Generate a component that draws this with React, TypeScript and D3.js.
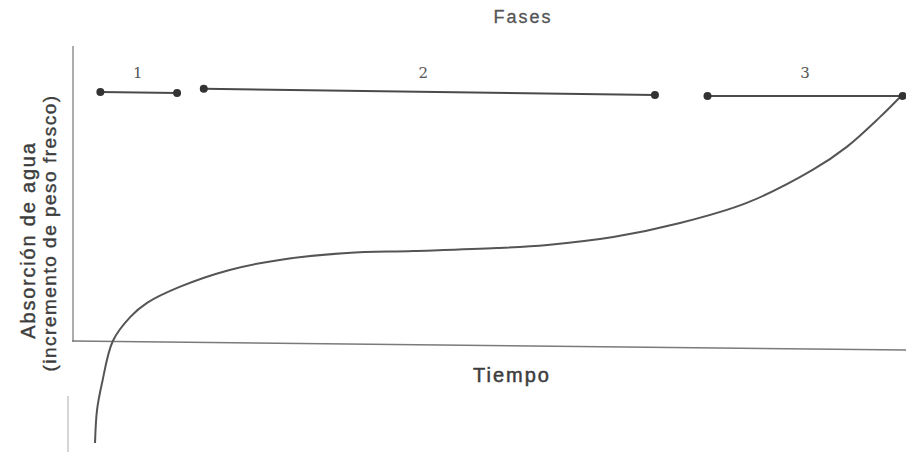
import React from "react";
import * as d3 from "d3";

// Curve: time (0-100) vs water absorption (relative units)
const curveTime = [2.76, 3.0, 3.6, 4.9, 7.0, 9.0, 12.9, 18.9, 24.9, 33.0, 40.9, 51.0, 57.0, 64.9, 72.9, 80.9, 88.8, 92.9, 96.9, 99.3];
const curveAbs = [-41.2, -27.8, -16.8, 0.3, 10.1, 15.8, 22.3, 29.2, 33.3, 36.1, 36.9, 38.1, 39.4, 42.6, 48.3, 56.5, 69.9, 79.3, 91.5, 99.6];

// Phases
const phaseLabels = ["1", "2", "3"];
const phaseStart = [3.4, 15.8, 76.2];
const phaseEnd = [12.6, 69.9, 99.6];
const phaseLevelStart = [101.6, 102.9, 100.0];
const phaseLevelEnd = [101.2, 100.4, 100.0];

const W = 906;
const H = 454;

export default function App() {
  const x = d3.scaleLinear().domain([0, 100]).range([72, 906]);
  const y = d3.scaleLinear().domain([-40, 100]).range([440, 96]);

  const pts: [number, number][] = curveTime.map((t, i) => [t, curveAbs[i]]);
  const line = d3
    .line<[number, number]>()
    .x((d) => x(d[0]))
    .y((d) => y(d[1]))
    .curve(d3.curveCatmullRom.alpha(0.5));

  const font = "'Liberation Sans', Arial, sans-serif";
  const ink = "#4a4a4a";
  const txt = "#3c3c3c";

  return (
    <svg width={W} height={H} style={{ position: "absolute", left: 0, top: 0, background: "#fff" }}>
      {/* axes */}
      <line x1={73} y1={46} x2={73} y2={342} stroke="#8a8a8a" strokeWidth={1.4} />
      <line x1={68} y1={396} x2={68} y2={452} stroke="#c4c4c4" strokeWidth={1.4} />
      <line x1={72} y1={341} x2={906} y2={350} stroke="#7a7a7a" strokeWidth={1.5} />

      {/* curve */}
      <path d={line(pts) || ""} fill="none" stroke="#555" strokeWidth={2} />

      {/* phases */}
      {phaseLabels.map((lab, i) => {
        const x1 = x(phaseStart[i]);
        const x2 = x(phaseEnd[i]);
        const y1 = y(phaseLevelStart[i]);
        const y2 = y(phaseLevelEnd[i]);
        return (
          <g key={lab}>
            <line x1={x1} y1={y1} x2={x2} y2={y2} stroke={ink} strokeWidth={2} />
            <circle cx={x1} cy={y1} r={4} fill="#333" />
            <circle cx={x2} cy={y2} r={4} fill="#333" />
            <text
              x={(x1 + x2) / 2 + (i === 0 ? -1 : i === 1 ? -6 : 0)}
              y={78}
              textAnchor="middle"
              fontFamily="'DejaVu Serif', serif"
              fontSize={15}
              fill="#555"
            >
              {lab}
            </text>
          </g>
        );
      })}

      {/* titles */}
      <text x={523} y={23} textAnchor="middle" fontFamily={font} fontSize={18} fill="#555" letterSpacing={2}
        stroke="#555" strokeWidth={0.3}>
        Fases
      </text>
      <text x={512} y={382} textAnchor="middle" fontFamily={font} fontSize={20} fill={txt} letterSpacing={2}
        stroke={txt} strokeWidth={0.5}>
        Tiempo
      </text>
      <text
        transform="translate(35,240) rotate(-90)"
        textAnchor="middle"
        fontFamily={font}
        fontSize={20}
        fill={txt}
        stroke={txt}
        strokeWidth={0.4}
        letterSpacing={1.8}
      >
        Absorción de agua
      </text>
      <text
        transform="translate(56,233) rotate(-90)"
        textAnchor="middle"
        fontFamily={font}
        fontSize={19}
        fill={txt}
        stroke={txt}
        strokeWidth={0.4}
        letterSpacing={1.5}
      >
        (incremento de peso fresco)
      </text>
    </svg>
  );
}
